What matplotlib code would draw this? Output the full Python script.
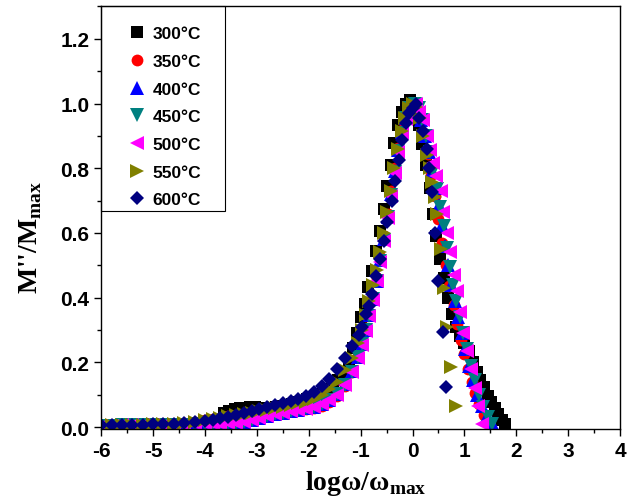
import matplotlib
matplotlib.use('Agg')
import matplotlib.pyplot as plt
from matplotlib.patches import Rectangle
from matplotlib.ticker import MultipleLocator

# normalised modulus M''/M''max vs log(w/wmax)
t300 = [(-3.63, 0.045), (-3.53, 0.050), (-3.43, 0.055), (-3.33, 0.058), (-3.23, 0.060), (-3.13, 0.061),
        (-3.03, 0.061), (-2.93, 0.060), (-2.83, 0.059), (-2.73, 0.060), (-2.63, 0.062), (-2.53, 0.065),
        (-2.43, 0.068), (-2.33, 0.072), (-2.23, 0.076), (-2.13, 0.080), (-2.03, 0.086), (-1.93, 0.093),
        (-1.83, 0.100), (-1.73, 0.108), (-1.63, 0.118), (-1.53, 0.130), (-1.43, 0.145), (-1.33, 0.165),
        (-1.23, 0.200), (-1.14, 0.245), (-1.07, 0.290), (-1.00, 0.340), (-0.92, 0.380), (-0.86, 0.432),
        (-0.78, 0.483), (-0.71, 0.545), (-0.63, 0.607), (-0.55, 0.674), (-0.49, 0.746), (-0.42, 0.810),
        (-0.35, 0.878), (-0.28, 0.934), (-0.20, 0.975), (-0.12, 1.000), (-0.05, 1.010), (0.06, 0.990),
        (0.13, 0.935), (0.19, 0.875), (0.26, 0.810), (0.33, 0.740), (0.40, 0.660), (0.46, 0.590),
        (0.53, 0.520), (0.60, 0.460), (0.68, 0.400), (0.76, 0.350), (0.84, 0.310), (0.92, 0.280),
        (1.00, 0.260), (1.08, 0.235), (1.16, 0.200), (1.24, 0.170), (1.31, 0.145), (1.37, 0.124),
        (1.45, 0.097), (1.52, 0.076), (1.58, 0.058), (1.65, 0.040), (1.72, 0.022), (1.79, 0.010)]

t350 = [(-6.0, 0.005), (-5.8, 0.005), (-5.6, 0.006), (-5.4, 0.006), (-5.2, 0.007), (-5.0, 0.008),
        (-4.8, 0.009), (-4.6, 0.011), (-4.4, 0.014), (-4.2, 0.017), (-4.0, 0.021), (-3.85, 0.025),
        (-3.7, 0.029), (-3.55, 0.033), (-3.4, 0.037), (-3.25, 0.041), (-3.1, 0.045), (-2.95, 0.049),
        (-2.8, 0.052), (-2.65, 0.052), (-2.5, 0.052), (-2.35, 0.053), (-2.2, 0.054), (-2.05, 0.056),
        (-1.9, 0.060), (-1.75, 0.066), (-1.6, 0.078), (-1.45, 0.097), (-1.3, 0.128), (-1.17, 0.170),
        (-1.05, 0.220), (-0.97, 0.262), (-0.9, 0.305), (-0.83, 0.352), (-0.76, 0.405), (-0.69, 0.462),
        (-0.62, 0.525), (-0.55, 0.590), (-0.48, 0.660), (-0.41, 0.730), (-0.34, 0.800), (-0.27, 0.862),
        (-0.2, 0.918), (-0.13, 0.960), (-0.06, 0.988), (0.01, 1.000), (0.08, 0.985), (0.15, 0.950),
        (0.22, 0.900), (0.29, 0.845), (0.36, 0.780), (0.44, 0.715), (0.50, 0.643), (0.57, 0.570),
        (0.65, 0.500), (0.71, 0.436), (0.79, 0.377), (0.86, 0.320), (0.93, 0.270), (1.00, 0.225),
        (1.07, 0.180), (1.14, 0.140), (1.21, 0.105), (1.29, 0.070), (1.37, 0.038), (1.45, 0.012)]

t400 = [(-6.0, 0.004), (-5.8, 0.004), (-5.6, 0.004), (-5.4, 0.005), (-5.2, 0.005), (-5.0, 0.005),
        (-4.8, 0.006), (-4.6, 0.006), (-4.4, 0.007), (-4.2, 0.008), (-4.0, 0.009), (-3.85, 0.010),
        (-3.7, 0.011), (-3.55, 0.012), (-3.4, 0.014), (-3.25, 0.017), (-3.1, 0.022), (-2.95, 0.028),
        (-2.8, 0.034), (-2.65, 0.040), (-2.5, 0.045), (-2.35, 0.050), (-2.2, 0.054), (-2.05, 0.058),
        (-1.9, 0.063), (-1.75, 0.071), (-1.6, 0.084), (-1.45, 0.102), (-1.3, 0.132), (-1.17, 0.172),
        (-1.05, 0.218), (-0.97, 0.258), (-0.9, 0.300), (-0.83, 0.346), (-0.76, 0.397), (-0.69, 0.453),
        (-0.62, 0.515), (-0.55, 0.580), (-0.48, 0.650), (-0.41, 0.720), (-0.34, 0.790), (-0.27, 0.855),
        (-0.2, 0.912), (-0.13, 0.956), (-0.06, 0.986), (0.03, 1.000), (0.10, 0.985), (0.17, 0.950),
        (0.24, 0.900), (0.31, 0.850), (0.38, 0.790), (0.45, 0.740), (0.51, 0.685), (0.57, 0.625),
        (0.63, 0.560), (0.69, 0.500), (0.75, 0.440), (0.81, 0.390), (0.88, 0.340), (0.95, 0.290),
        (1.02, 0.240), (1.09, 0.190), (1.17, 0.145), (1.25, 0.100), (1.33, 0.065), (1.43, 0.035),
        (1.53, 0.012)]

t450 = [(-6.0, 0.004), (-5.8, 0.004), (-5.6, 0.005), (-5.4, 0.005), (-5.2, 0.005), (-5.0, 0.006),
        (-4.8, 0.006), (-4.6, 0.007), (-4.4, 0.007), (-4.2, 0.008), (-4.0, 0.009), (-3.85, 0.010),
        (-3.7, 0.011), (-3.55, 0.012), (-3.4, 0.014), (-3.25, 0.017), (-3.1, 0.022), (-2.95, 0.028),
        (-2.8, 0.034), (-2.65, 0.040), (-2.5, 0.045), (-2.35, 0.050), (-2.2, 0.054), (-2.05, 0.058),
        (-1.9, 0.063), (-1.75, 0.071), (-1.6, 0.084), (-1.45, 0.101), (-1.3, 0.131), (-1.17, 0.171),
        (-1.05, 0.216), (-0.97, 0.256), (-0.9, 0.299), (-0.83, 0.344), (-0.76, 0.395), (-0.69, 0.451),
        (-0.62, 0.512), (-0.55, 0.578), (-0.48, 0.648), (-0.41, 0.718), (-0.34, 0.788), (-0.27, 0.852),
        (-0.2, 0.910), (-0.13, 0.955), (-0.06, 0.985), (0.05, 1.000), (0.12, 0.985), (0.19, 0.950),
        (0.26, 0.900), (0.33, 0.850), (0.40, 0.790), (0.47, 0.735), (0.53, 0.680), (0.60, 0.620),
        (0.66, 0.555), (0.72, 0.495), (0.78, 0.440), (0.84, 0.390), (0.91, 0.340), (0.98, 0.290),
        (1.05, 0.240), (1.12, 0.190), (1.20, 0.145), (1.28, 0.100), (1.36, 0.062), (1.45, 0.030),
        (1.54, 0.010)]

t500 = [(-6.0, 0.004), (-5.8, 0.004), (-5.6, 0.005), (-5.4, 0.005), (-5.2, 0.005), (-5.0, 0.006),
        (-4.8, 0.006), (-4.6, 0.007), (-4.4, 0.007), (-4.2, 0.008), (-4.0, 0.009), (-3.85, 0.010),
        (-3.7, 0.011), (-3.55, 0.012), (-3.4, 0.013), (-3.25, 0.016), (-3.1, 0.021), (-2.95, 0.027),
        (-2.8, 0.033), (-2.65, 0.039), (-2.5, 0.044), (-2.35, 0.049), (-2.2, 0.053), (-2.05, 0.057),
        (-1.9, 0.062), (-1.75, 0.070), (-1.6, 0.083), (-1.45, 0.100), (-1.3, 0.130), (-1.17, 0.170),
        (-1.05, 0.215), (-0.97, 0.255), (-0.9, 0.298), (-0.83, 0.343), (-0.76, 0.393), (-0.69, 0.450),
        (-0.62, 0.510), (-0.55, 0.575), (-0.48, 0.645), (-0.41, 0.715), (-0.34, 0.785), (-0.27, 0.850),
        (-0.2, 0.908), (-0.13, 0.953), (-0.06, 0.985), (0.06, 1.000), (0.13, 0.975), (0.20, 0.950),
        (0.27, 0.900), (0.33, 0.855), (0.39, 0.815), (0.46, 0.775), (0.54, 0.730), (0.59, 0.665),
        (0.67, 0.600), (0.73, 0.540), (0.79, 0.470), (0.86, 0.420), (0.92, 0.355), (0.98, 0.290),
        (1.05, 0.235), (1.12, 0.180), (1.21, 0.120), (1.27, 0.066), (1.34, 0.010)]

t550 = [(-6.0, 0.005), (-5.8, 0.005), (-5.6, 0.006), (-5.4, 0.006), (-5.2, 0.007), (-5.0, 0.008),
        (-4.8, 0.009), (-4.6, 0.011), (-4.4, 0.014), (-4.2, 0.017), (-4.0, 0.021), (-3.85, 0.025),
        (-3.7, 0.029), (-3.55, 0.033), (-3.4, 0.037), (-3.25, 0.041), (-3.1, 0.045), (-2.95, 0.049),
        (-2.8, 0.053), (-2.65, 0.058), (-2.5, 0.063), (-2.35, 0.068), (-2.2, 0.073), (-2.05, 0.079),
        (-1.9, 0.087), (-1.75, 0.100), (-1.6, 0.117), (-1.45, 0.140), (-1.3, 0.175), (-1.17, 0.215),
        (-1.05, 0.260), (-0.97, 0.300), (-0.9, 0.345), (-0.84, 0.390), (-0.76, 0.440), (-0.69, 0.485),
        (-0.62, 0.540), (-0.55, 0.600), (-0.49, 0.665), (-0.42, 0.730), (-0.35, 0.800), (-0.28, 0.860),
        (-0.21, 0.915), (-0.14, 0.955), (-0.07, 0.985), (0.00, 1.000), (0.07, 0.990), (0.14, 0.955),
        (0.21, 0.900), (0.28, 0.840), (0.33, 0.800), (0.38, 0.757), (0.43, 0.710), (0.48, 0.660),
        (0.54, 0.550), (0.60, 0.430), (0.67, 0.310), (0.74, 0.185), (0.83, 0.065)]

t600 = [(-6.0, 0.005), (-5.8, 0.005), (-5.6, 0.006), (-5.4, 0.006), (-5.2, 0.007), (-5.0, 0.008),
        (-4.8, 0.009), (-4.6, 0.011), (-4.4, 0.013), (-4.2, 0.016), (-4.0, 0.019), (-3.85, 0.023),
        (-3.7, 0.027), (-3.55, 0.032), (-3.4, 0.037), (-3.25, 0.043), (-3.1, 0.050), (-2.95, 0.057),
        (-2.8, 0.063), (-2.65, 0.069), (-2.5, 0.075), (-2.35, 0.081), (-2.2, 0.088), (-2.05, 0.097),
        (-1.9, 0.109), (-1.75, 0.126), (-1.6, 0.150), (-1.45, 0.180), (-1.3, 0.215), (-1.17, 0.250),
        (-1.04, 0.285), (-0.97, 0.310), (-0.9, 0.350), (-0.84, 0.375), (-0.78, 0.410), (-0.71, 0.468),
        (-0.63, 0.520), (-0.55, 0.576), (-0.49, 0.634), (-0.40, 0.700), (-0.33, 0.762), (-0.26, 0.826),
        (-0.20, 0.886), (-0.13, 0.940), (-0.06, 0.970), (0.00, 0.985), (0.06, 1.000), (0.13, 0.955),
        (0.20, 0.915), (0.27, 0.860), (0.32, 0.800), (0.38, 0.727), (0.44, 0.600), (0.50, 0.450),
        (0.59, 0.295), (0.65, 0.124)]

series = [t300, t350, t400, t450, t500, t550, t600]
labels = ['300°C', '350°C', '400°C', '450°C', '500°C', '550°C', '600°C']
colors = ['black', 'red', 'blue', '#008080', '#ff00ff', '#808000', '#000080']
markers = ['s', 'o', '^', 'v', '<', '>', 'D']
msizes = [8.5, 8.5, 9.5, 9.5, 9.5, 9.5, 7.5]

plt.rcParams['font.family'] = 'Liberation Sans'
plt.rcParams['font.weight'] = 'bold'
plt.rcParams['axes.unicode_minus'] = False
plt.rcParams['mathtext.fontset'] = 'custom'
plt.rcParams['mathtext.rm'] = 'Liberation Serif:bold'
plt.rcParams['mathtext.bf'] = 'Liberation Serif:bold'

fig = plt.figure(figsize=(6.36, 5.02), dpi=100)
ax = fig.add_axes([0.159, 0.1434, 0.816, 0.843])

for data, lab, c, m, ms in zip(series, labels, colors, markers, msizes):
    xs = [p[0] for p in data]
    ys = [p[1] for p in data]
    ax.plot(xs, ys, linestyle='none', marker=m, markersize=ms, color=c,
            markeredgecolor=c, markeredgewidth=0, label=lab)

ax.set_xlim(-6, 4)
ax.set_ylim(-0.006, 1.302)
ax.xaxis.set_major_locator(MultipleLocator(1))
ax.xaxis.set_minor_locator(MultipleLocator(0.5))
ax.yaxis.set_major_locator(MultipleLocator(0.2))
ax.yaxis.set_minor_locator(MultipleLocator(0.1))
ax.tick_params(which='both', direction='out', top=False, right=False, width=1)
ax.tick_params(which='major', length=5, labelsize=15)
ax.tick_params(which='minor', length=3)
for lbl in ax.get_xticklabels() + ax.get_yticklabels():
    lbl.set_fontweight('bold')
for sp in ax.spines.values():
    sp.set_linewidth(1)

ax.set_xlabel("log\u03c9/\u03c9$_{\\mathbf{max}}$", family='Liberation Serif',
              fontsize=20, fontweight='bold')
ax.set_ylabel("M''/M$_{\\mathbf{max}}$", family='Liberation Serif',
              fontsize=20, fontweight='bold')
ax.xaxis.set_label_coords(0.509, -0.092)
ax.yaxis.set_label_coords(-0.111, 0.455)

# legend box: frame drawn separately so the entries can sit lower in it
leg = ax.legend(loc='upper left', bbox_to_anchor=(0.021, 0.9905), borderaxespad=0,
                frameon=False, prop={'size': 12.5, 'weight': 'bold'},
                labelspacing=0.72, borderpad=0.95, handlelength=1.0, handletextpad=0.4)
ax.add_patch(Rectangle((0, 0.515), 0.239, 0.485, transform=ax.transAxes, fill=False,
                       edgecolor='black', linewidth=0.8, zorder=5, clip_on=False))

fig.savefig('out.png', dpi=100)
